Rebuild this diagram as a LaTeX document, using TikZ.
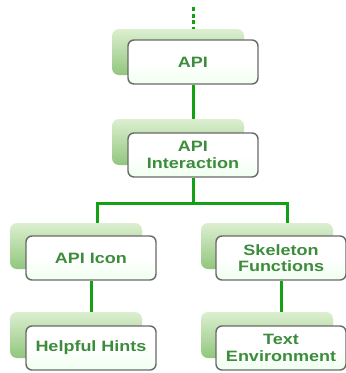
\documentclass[tikz,border=0pt]{standalone}
\usepackage{fontspec}
\newfontfamily\lbl[FakeStretch=1.2]{Liberation Sans}
\definecolor{conngreen}{RGB}{20,160,20}
\definecolor{txtgreen}{RGB}{60,140,60}
\definecolor{backtop}{RGB}{220,239,208}
\definecolor{backbot}{RGB}{145,198,125}
\definecolor{framegray}{RGB}{105,105,105}
\begin{document}
\begin{tikzpicture}[x=1pt,y=-1pt,
 backbox/.style={rounded corners=7pt, top color=backtop, bottom color=backbot, minimum width=132pt, minimum height=46pt, inner sep=0pt},
 frontbox/.style={draw=framegray, line width=1.4pt, rounded corners=6pt, top color=white, bottom color=white!94!green, middle color=white, inner sep=0pt, minimum width=130pt, minimum height=44pt, text=txtgreen, font=\lbl\bfseries\fontsize{15}{16.5}\selectfont, align=center},
 connline/.style={draw=conngreen, line width=3pt}]
\useasboundingbox (0,0) rectangle (346,373);
\fill[white] (0,0) rectangle (346,373);
\node[backbox] (apiB) at (178,52) {};
\node[frontbox] (api) at (193,62) {API};
\node[backbox] (intB) at (178,142) {};
\node[frontbox] (int) at (193,155) {API\\Interaction};
\node[backbox] (iconB) at (76,246) {};
\node[frontbox] (icon) at (91,258) {API Icon};
\node[backbox] (skelB) at (267,246) {};
\node[frontbox] (skel) at (281,258) {Skeleton\\Functions};
\node[backbox] (hintsB) at (76,335) {};
\node[frontbox] (hints) at (91,348) {Helpful Hints};
\node[backbox] (textB) at (267,335) {};
\node[frontbox] (textE) at (281,348) {Text\\Environment};
\coordinate (top) at (193,7);
\coordinate (j) at (193,203);
\coordinate (jl) at (97,203);
\coordinate (jr) at (287,203);
\draw[connline, dash pattern=on 4pt off 2.5pt] (top) -- (top |- apiB.north);
\draw[connline] (api.south) -- (api.south |- intB.north);
\draw[connline] (int.south) -- (j);
\draw[connline] (jl |- iconB.north) -- (jl) -- (jr) -- (jr |- skelB.north);
\draw[connline] (icon.south) -- (icon.south |- hintsB.north);
\draw[connline] (skel.south) -- (skel.south |- textB.north);
\end{tikzpicture}
\end{document}
